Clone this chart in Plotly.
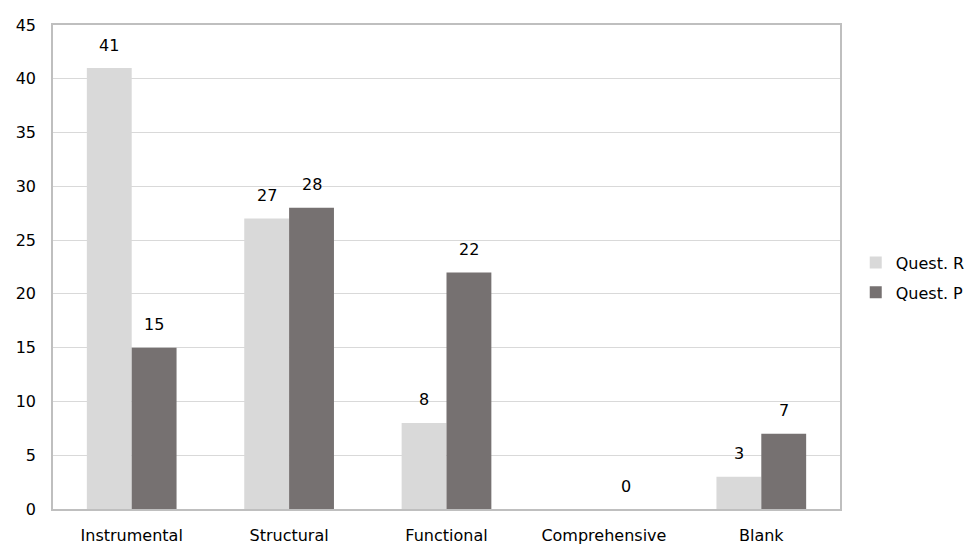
import plotly.graph_objects as go

categories = ["Instrumental", "Structural", "Functional", "Comprehensive", "Blank"]
quest_r = [41, 27, 8, None, 3]
quest_p = [15, 28, 22, 0, 7]
y_ticks = [0, 5, 10, 15, 20, 25, 30, 35, 40, 45]

col_r = "#d9d9d9"
col_p = "#767171"
font_family = "DejaVu Sans, sans-serif"
fs = 16

fig = go.Figure()
fig.add_trace(go.Bar(name="Quest. R", x=categories, y=quest_r, marker_color=col_r,
                     marker_line_width=0, legendgroup="r"))
fig.add_trace(go.Bar(name="Quest. P", x=categories, y=quest_p, marker_color=col_p,
                     marker_line_width=0, legendgroup="p"))

# value labels above bars
off = 0.57 / 4
for i, (c, r, p) in enumerate(zip(categories, quest_r, quest_p)):
    for v, dx in ((r, -off), (p, off)):
        if v is None:
            continue
        fig.add_annotation(x=i + dx, y=v, text=str(v), showarrow=False,
                           yshift=23, font=dict(size=fs, color="#000000", family=font_family),
                           xref="x", yref="y")

fig.update_layout(
    width=980, height=550,
    margin=dict(l=42, r=148, t=8, b=49),
    paper_bgcolor="white", plot_bgcolor="white",
    barmode="group", bargap=0.43, bargroupgap=0,
    font=dict(family=font_family, size=fs, color="#000000"),
    showlegend=True,
    legend=dict(x=1.02, y=0.478, xanchor="left", yanchor="middle",
                font=dict(size=fs, family=font_family), tracegroupgap=6,
                bgcolor="rgba(0,0,0,0)"),
)
fig.update_xaxes(showline=True, linecolor="#bfbfbf", linewidth=1.5, mirror=True,
                 ticks="", showgrid=False, tickfont=dict(size=fs), ticklabelstandoff=11)
fig.update_yaxes(range=[0, 45], tickvals=y_ticks, showgrid=True, gridcolor="#d9d9d9",
                 gridwidth=1, showline=True, linecolor="#bfbfbf", linewidth=1.5, mirror=True,
                 ticks="", tickfont=dict(size=fs), zeroline=False, ticklabelstandoff=12)

fig.write_html("out.html")
